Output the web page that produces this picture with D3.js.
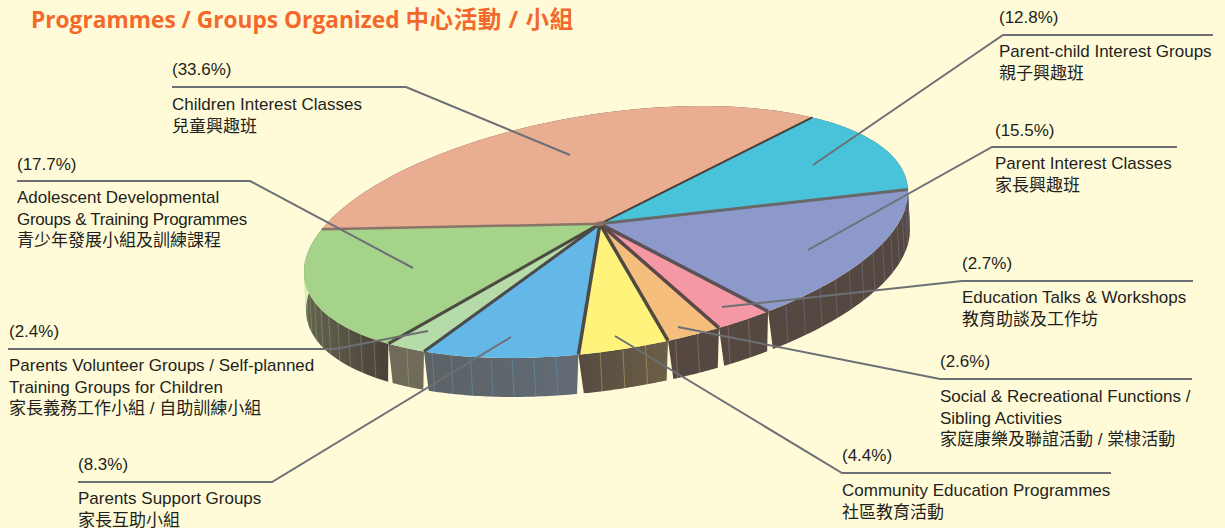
<!DOCTYPE html>
<html>
<head>
<meta charset="utf-8">
<script src="https://cdn.jsdelivr.net/npm/d3@7"></script>
<style>
html, body { margin: 0; padding: 0; background: #fffbd8; overflow: hidden; }
svg { display: block; }
text { font-family: "Liberation Sans", "Noto Sans CJK TC", sans-serif; font-size: 17px; fill: #231f20; }
</style>
</head>
<body>
<script>
// chart values, clockwise from the big slice at the back
var namesEn = [
  ["Children Interest Classes"],
  ["Parent-child Interest Groups"],
  ["Parent Interest Classes"],
  ["Education Talks & Workshops"],
  ["Social & Recreational Functions /", "Sibling Activities"],
  ["Community Education Programmes"],
  ["Parents Support Groups"],
  ["Parents Volunteer Groups / Self-planned", "Training Groups for Children"],
  ["Adolescent Developmental", "Groups & Training Programmes"]
];
var namesZh = ["兒童興趣班", "親子興趣班", "家長興趣班", "教育助談及工作坊", "家庭康樂及聯誼活動 / 棠棣活動",
  "社區教育活動", "家長互助小組", "家長義務工作小組 / 自助訓練小組", "青少年發展小組及訓練課程"];
var values = [33.6, 12.8, 15.5, 2.7, 2.6, 4.4, 8.3, 2.4, 17.7];

// styles per slice
var topColors = ["#e9ad92", "#48c3da", "#8e99cb", "#f598a4", "#f6be7c", "#fff37c", "#63b8e8", "#b4dba8", "#a5d389"];
var wallLeft = ["#544840", "#544840", "#544840", "#544840", "#544840", "#544a40", "#5c6265", "#6f6b58", "#65634f"];
var wallRight = ["#544840", "#544840", "#544840", "#544840", "#544840", "#6d6047", "#626b76", "#6f6b58", "#4a403a"];
var edgeColors = ["#4a3f3a", "#686868", "#5b5257", "#5a4848", "#4f4a40", "#4d4a48", "#4a4a4a", "#4d4a40", "#8a7468"];
var edgeWidths = [2, 3, 3.5, 3.5, 3.5, 3.5, 3, 3, 2.5];

// label placement: x of the text, baselines, leader line points
var labelX = [172, 999, 995, 962, 940, 842, 78, 9, 17];
var pctY = [75, 23, 136, 269, 367, 461, 470, 337, 170];
var nameY = [110, 57, 169, 303, 402, 496, 504, 371, 203];
var leaders = [
  [[172, 87], [406, 87], [570, 155]],
  [[1213, 35], [1003, 35], [813, 165]],
  [[1177, 147], [992, 147], [808, 250]],
  [[1193, 281], [962, 281], [722, 307]],
  [[1192, 379], [940, 379], [678, 327]],
  [[1111, 473], [842, 473], [615, 336]],
  [[78, 482], [272, 482], [511, 337]],
  [[8, 349], [335, 349], [428, 331]],
  [[17, 181], [250, 181], [413, 268]]
];

var width = 1225, height = 528;
var svg = d3.select("body").append("svg").attr("width", width).attr("height", height);
svg.append("rect").attr("width", width).attr("height", height).attr("fill", "#fffbd8");

var rad = Math.PI / 180;
var slices = d3.pie().sort(null).startAngle(-74 * rad).endAngle(286 * rad)(values);

// the pie is a tilted disc seen in perspective, the centre of the disc lands on (px, py)
var px = -0.02, py = -0.075;
var plen = Math.hypot(px, py);
function disc(a, r) {
  var x = r * Math.sin(a), y = -r * Math.cos(a);
  var along = (x * px + y * py) / plen;
  var w = 1 + x * px + y * py;
  var s = Math.sqrt(1 - plen * plen);
  var perpX = x - along * px / plen, perpY = y - along * py / plen;
  return [((along + plen) * px / plen + perpX * s) / w, ((along + plen) * py / plen + perpY * s) / w];
}
function topPoint(a, r) {
  var p = disc(a, r);
  return [606 + 302 * p[0], 232 - 40 * p[0] + 119.5 * p[1]];
}
function bottomPoint(a) {
  var p = disc(a, 1);
  return [608 + 302 * p[0], 270 - 40 * p[0] + 120.5 * p[1]];
}
function sampleAngles(a0, a1) {
  return d3.range(0, 41).map(function(i) { return a0 + (a1 - a0) * i / 40; });
}

var line = d3.line();
var defs = svg.append("defs");
var pad = 0.6 * rad;   // opens a small gap between the walls at the bottom

// walls first, the top of the pie covers what is hidden
slices.forEach(function(s, i) {
  var grad = defs.append("linearGradient").attr("id", "wall" + i);
  grad.append("stop").attr("offset", "0%").attr("stop-color", wallLeft[i]);
  grad.append("stop").attr("offset", "100%").attr("stop-color", wallRight[i]);

  var angles = sampleAngles(s.startAngle, s.endAngle);
  var upper = angles.map(function(a) { return topPoint(a, 1); });
  var lower = sampleAngles(s.endAngle - pad, s.startAngle + pad).map(bottomPoint);
  svg.append("path")
    .attr("d", line(upper.concat(lower)) + "Z")
    .attr("fill", "url(#wall" + i + ")");

  // thin stripes in the colour of the slice
  d3.range(s.startAngle + 4 * rad, s.endAngle - 1 * rad, 4 * rad).forEach(function(a) {
    svg.append("path")
      .attr("d", line([topPoint(a, 1), bottomPoint(a)]))
      .attr("stroke", topColors[i])
      .attr("stroke-opacity", 0.3)
      .attr("stroke-width", 1)
      .attr("fill", "none");
  });
});

slices.forEach(function(s, i) {
  var rim = sampleAngles(s.startAngle, s.endAngle).map(function(a) { return topPoint(a, 1); });
  svg.append("path")
    .attr("d", line([topPoint(0, 0)].concat(rim)) + "Z")
    .attr("fill", topColors[i]);
});

// dark lines between the slices, edge i closes slice i
slices.forEach(function(s, i) {
  svg.append("path")
    .attr("d", line([topPoint(0, 0), topPoint(s.endAngle, 1)]))
    .attr("stroke", edgeColors[i])
    .attr("stroke-width", edgeWidths[i])
    .attr("fill", "none");
});
svg.append("path")
  .attr("d", line(sampleAngles(0, 2 * Math.PI).map(function(a) { return topPoint(a, 0.02); })) + "Z")
  .attr("fill", "#8a6f66");

// leader lines and labels
leaders.forEach(function(pts) {
  svg.append("path")
    .attr("d", line(pts))
    .attr("stroke", "#6d7075")
    .attr("stroke-width", 2)
    .attr("fill", "none");
});

values.forEach(function(v, i) {
  svg.append("text").attr("x", labelX[i]).attr("y", pctY[i]).text("(" + v.toFixed(1) + "%)");
  namesEn[i].forEach(function(t, j) {
    svg.append("text").attr("x", labelX[i]).attr("y", nameY[i] + j * 22)
      .style("letter-spacing", t.indexOf("Groups &") == 0 ? "-0.33px" : null)   // this line is set tighter
      .text(t);
  });
  svg.append("text").attr("x", labelX[i]).attr("y", nameY[i] + namesEn[i].length * 21.5).text(namesZh[i]);
});

var title = svg.append("text")
  .attr("x", 31).attr("y", 28)
  .style("font-family", '"Open Sans", "Noto Sans CJK TC", sans-serif')
  .style("font-weight", "700")
  .style("fill", "#f4682c");
title.append("tspan").style("font-size", "22.7px").text("Programmes / Groups Organized ");
title.append("tspan").style("font-size", "23.5px").style("letter-spacing", "0.6px").text("中心活動 / 小組");
</script>
</body>
</html>
